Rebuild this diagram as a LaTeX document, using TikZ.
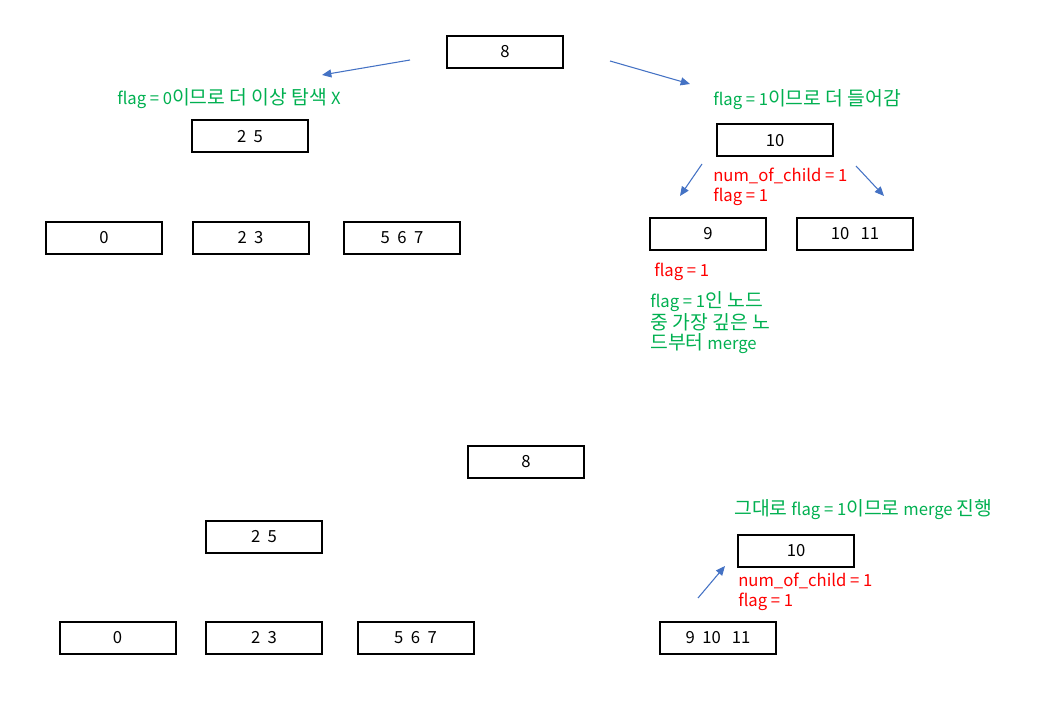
\documentclass[tikz,border=0pt]{standalone}
\usepackage{fontspec}
\setmainfont{Noto Sans CJK KR}
\newfontfamily\kr[Scale=1.16]{Noto Sans CJK KR}
\usetikzlibrary{arrows.meta}
\definecolor{notegreen}{HTML}{00B050}
\definecolor{notered}{HTML}{FF0000}
\definecolor{arrowblue}{HTML}{4472C4}
\begin{document}
\begin{tikzpicture}[x=0.75pt,y=-0.75pt,
  keybox/.style={draw=black,line width=1.5pt,minimum width=87pt,minimum height=24pt,inner sep=0pt,font=\fontsize{12.5}{14}\selectfont},
  greennote/.style={anchor=west,inner sep=0pt,text=notegreen,align=left,font=\fontsize{12.5}{15}\selectfont},
  rednote/.style={anchor=west,inner sep=0pt,text=notered,align=left,font=\fontsize{12.5}{15}\selectfont},
  link/.style={draw=arrowblue,line width=0.8pt,-{Triangle[length=7pt,width=6pt]}}]
\useasboundingbox (0,0) rectangle (1038,709);

% upper tree
\node[keybox] (t8) at (505,52) {8};
\node[keybox] (t25) at (250,136.5) {2\ \ 5};
\node[keybox] (t0) at (104,238) {0};
\node[keybox] (t23) at (250.5,238) {2\ \ 3};
\node[keybox] (t567) at (402,238) {5\ \ 6\ \ 7};
\node[keybox] (t10) at (775,140.5) {10};
\node[keybox] (t9) at (708,234) {9};
\node[keybox] (t1011) at (855,234) {10\ \ \ 11};

\coordinate (a1s) at (410,60);  \coordinate (a1e) at (322,75);
\coordinate (a2s) at (610,61);  \coordinate (a2e) at (690,84);
\coordinate (a3s) at (702,164); \coordinate (a3e) at (680,196);
\coordinate (a4s) at (856,166); \coordinate (a4e) at (884,196);
\draw[link] (a1s) -- (a1e);
\draw[link] (a2s) -- (a2e);
\draw[link] (a3s) -- (a3e);
\draw[link] (a4s) -- (a4e);

\node[greennote] (n1) at (117,99) {flag\ =\ 0{\kr 이므로 더 이상 탐색} X};
\node[greennote] (n2) at (713,100) {flag\ =\ 1{\kr 이므로 더 들어감}};
\node[rednote] (n3) at (713,187) {num\_of\_child\ =\ 1\\flag\ =\ 1};
\node[rednote] (n4) at (654,272) {flag\ =\ 1};
\node[greennote] (n5) at (650,322.5) {flag\ =\ 1{\kr 인 노드}\\{\kr 중 가장 깊은 노}\\{\kr 드부터} merge};

% lower tree
\node[keybox] (b8) at (526,462) {8};
\node[keybox] (b25) at (264,537) {2\ \ 5};
\node[keybox] (b0) at (117.5,638) {0};
\node[keybox] (b23) at (264,638) {2\ \ 3};
\node[keybox] (b567) at (415.5,638) {5\ \ 6\ \ 7};
\node[keybox] (b10) at (796,550.5) {10};
\node[keybox] (b91011) at (718,638) {9\ \ 10\ \ \ 11};

\coordinate (a5s) at (698,598); \coordinate (a5e) at (725,566);
\draw[link] (a5s) -- (a5e);

\node[greennote] (n6) at (734,510) {{\kr 그대로} flag\ =\ 1{\kr 이므로} merge {\kr 진행}};
\node[rednote] (n7) at (738,592) {num\_of\_child\ =\ 1\\flag\ =\ 1};
\end{tikzpicture}
\end{document}
